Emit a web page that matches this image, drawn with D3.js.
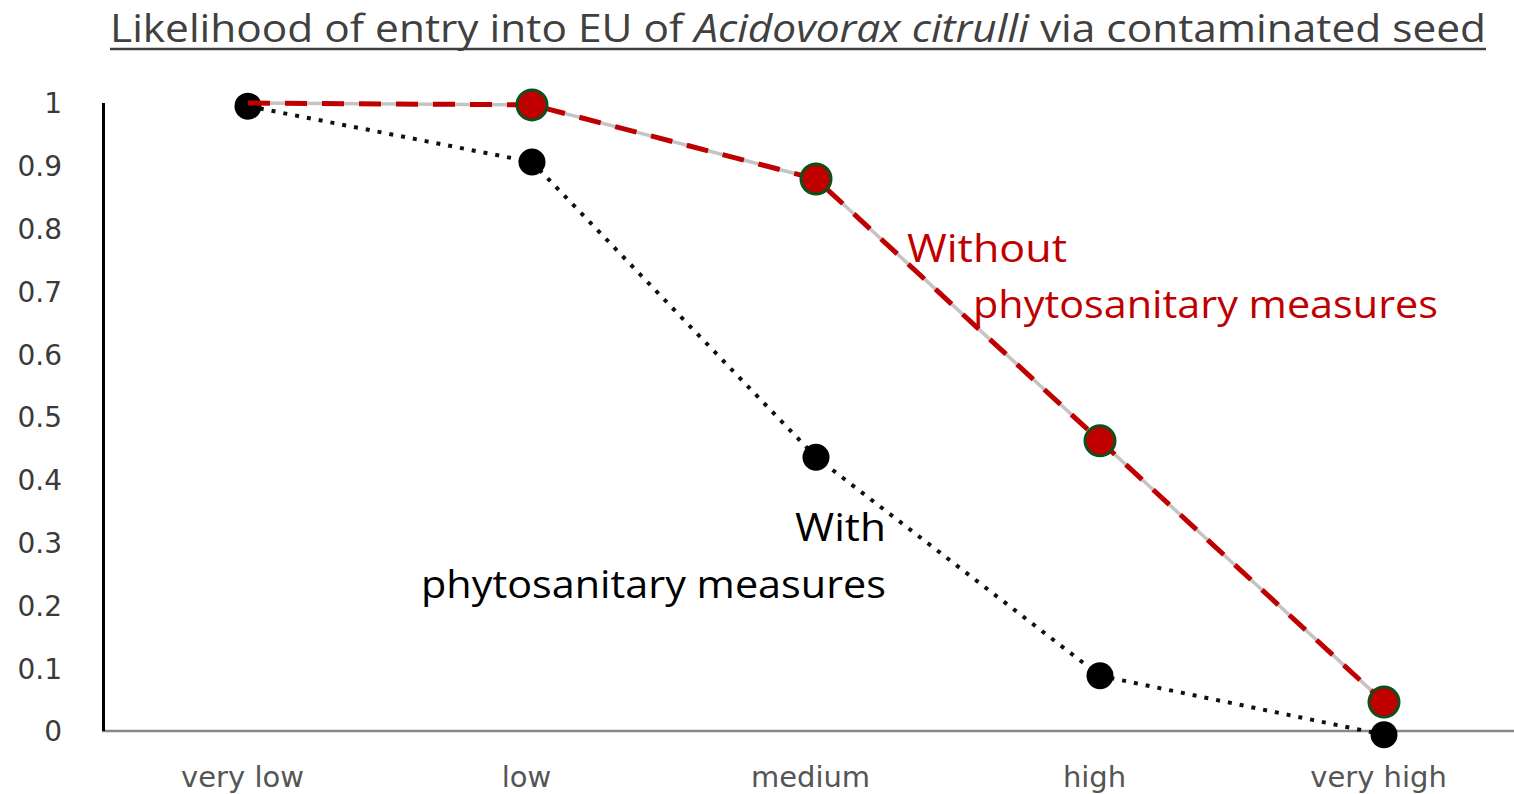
<!DOCTYPE html>
<html>
<head>
<meta charset="utf-8">
<script src="https://cdn.jsdelivr.net/npm/d3@7"></script>
<style>
  body { margin: 0; background: #fff; }
  text { font-family: "Open Sans", sans-serif; }
</style>
</head>
<body>
<script>
var categories = ["very low", "low", "medium", "high", "very high"];
var withMeasures = [0.995, 0.906, 0.436, 0.088, -0.006];
var withoutMeasures = [1.0, 0.997, 0.879, 0.462, 0.046];
var yTicks = [0, 0.1, 0.2, 0.3, 0.4, 0.5, 0.6, 0.7, 0.8, 0.9, 1];

var width = 1514,
    height = 794;

var svg = d3.select("body").append("svg")
    .attr("width", width)
    .attr("height", height);

var x = d3.scalePoint().domain(categories).range([248, 1384]);
var y = d3.scaleLinear().domain([0, 1]).range([731, 103]);

// title
var title = svg.append("text")
    .attr("x", 110)
    .attr("y", 42)
    .attr("textLength", 1376)
    .attr("lengthAdjust", "spacingAndGlyphs")
    .style("font-size", "38px")
    .style("fill", "#404040");
title.append("tspan").text("Likelihood of entry into EU of ");
title.append("tspan").style("font-style", "italic").text("Acidovorax citrulli");
title.append("tspan").text(" via contaminated seed");
svg.append("line")
    .attr("x1", 110).attr("x2", 1486)
    .attr("y1", 49).attr("y2", 49)
    .style("stroke", "#404040")
    .style("stroke-width", 2.5);

// axes
var xAxis = d3.axisBottom(x).tickSize(0).tickPadding(0);
var gx = svg.append("g").attr("transform", "translate(0," + y(0) + ")").call(xAxis);
gx.select(".domain").remove();
gx.append("line")
    .attr("x1", 102).attr("x2", width)
    .style("stroke", "#888").style("stroke-width", 2.5);
gx.selectAll(".tick text")
    .attr("dx", -6)
    .attr("y", 56)
    .attr("dy", 0)
    .style("font-family", "\"DejaVu Sans\", sans-serif")
    .style("font-size", "29px")
    .style("fill", "#555");

var yAxis = d3.axisLeft(y).tickValues(yTicks).tickSize(0).tickPadding(0)
    .tickFormat(function(d) { return String(d); });
var gy = svg.append("g").attr("transform", "translate(62,0)").call(yAxis);
gy.select(".domain").remove();
gy.selectAll(".tick text")
    .attr("dy", "0.35em")
    .style("font-family", "\"DejaVu Sans\", sans-serif")
    .style("font-size", "28px")
    .style("fill", "#3a3a3a");
svg.append("line")
    .attr("x1", 103.5).attr("x2", 103.5)
    .attr("y1", y(1)).attr("y2", y(0))
    .style("stroke", "#000").style("stroke-width", 3);

// with measures: black dotted
var line = d3.line()
    .x(function(d, i) { return x(categories[i]); })
    .y(function(d) { return y(d); });

svg.append("path")
    .attr("d", line(withMeasures))
    .style("fill", "none")
    .style("stroke", "#111")
    .style("stroke-width", 4)
    .style("stroke-dasharray", "4,8");

svg.selectAll("circle.with").data(withMeasures).enter()
  .append("circle")
    .attr("class", "with")
    .attr("cx", function(d, i) { return x(categories[i]); })
    .attr("cy", function(d) { return y(d); })
    .attr("r", 13.5)
    .style("fill", "#000");

// without measures: grey underlay + red dashed
svg.append("path")
    .attr("d", line(withoutMeasures))
    .style("fill", "none")
    .style("stroke", "#c4c4c4")
    .style("stroke-width", 3.5);
svg.append("path")
    .attr("d", line(withoutMeasures))
    .style("fill", "none")
    .style("stroke", "#c00000")
    .style("stroke-width", 5)
    .style("stroke-dasharray", "22,15");

svg.selectAll("circle.without").data(withoutMeasures.slice(1)).enter()
  .append("circle")
    .attr("class", "without")
    .attr("cx", function(d, i) { return x(categories[i + 1]); })
    .attr("cy", function(d) { return y(d); })
    .attr("r", 15)
    .style("fill", "#c00000")
    .style("stroke", "#0f4f1a")
    .style("stroke-width", 3);

// labels
svg.append("text").attr("x", 907).attr("y", 262)
    .attr("textLength", 160).attr("lengthAdjust", "spacingAndGlyphs")
    .style("font-size", "38px").style("fill", "#c00000").text("Without");
svg.append("text").attr("x", 973).attr("y", 318)
    .attr("textLength", 465).attr("lengthAdjust", "spacingAndGlyphs")
    .style("font-size", "38px").style("fill", "#c00000").text("phytosanitary measures");
svg.append("text").attr("x", 795).attr("y", 541)
    .attr("textLength", 91).attr("lengthAdjust", "spacingAndGlyphs")
    .style("font-size", "38px").style("fill", "#000").text("With");
svg.append("text").attr("x", 421).attr("y", 598)
    .attr("textLength", 465).attr("lengthAdjust", "spacingAndGlyphs")
    .style("font-size", "38px").style("fill", "#000").text("phytosanitary measures");
</script>
</body>
</html>
